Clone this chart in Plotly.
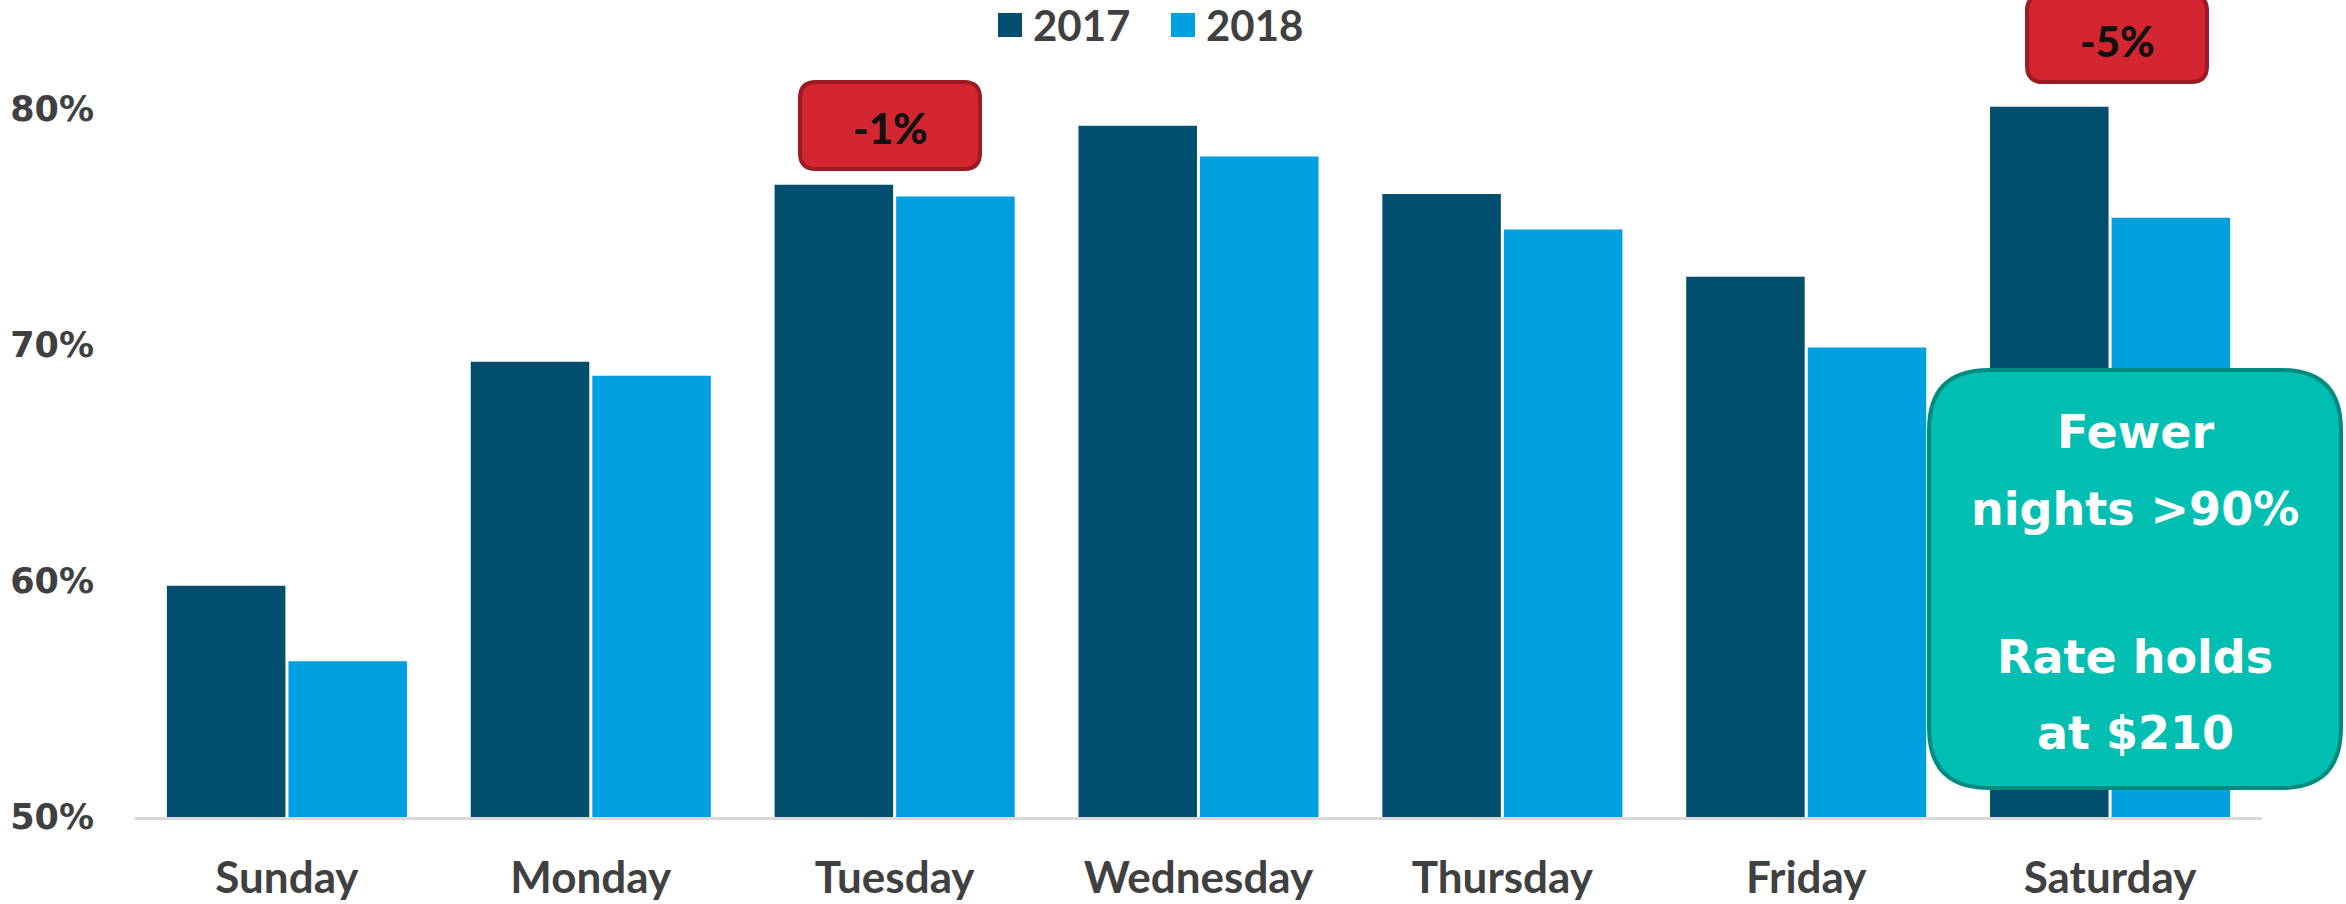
import plotly.graph_objects as go

# Occupancy by day of week
days = ["Sunday", "Monday", "Tuesday", "Wednesday", "Thursday", "Friday", "Saturday"]
occ_2017 = [59.8, 69.3, 76.8, 79.3, 76.4, 72.9, 80.1]
occ_2018 = [56.6, 68.7, 76.3, 78.0, 74.9, 69.9, 75.4]
series_names = ["2017", "2018"]
y_ticks = [50, 60, 70, 80]
y_tick_text = ["50%", "60%", "70%", "80%"]

change_labels = [("Tuesday", "-1%"), ("Saturday", "-5%")]
callout_lines = ["Fewer", "nights >90%", "Rate holds", "at $210"]

DARK = "#004F6E"
LIGHT = "#009FDF"
RED = "#D42630"
RED_EDGE = "#9A1B22"
TEAL = "#00BFB2"
TEAL_EDGE = "#008A80"
GREY_TXT = "#404040"

W, H = 2346, 904
L, R, T, B = 135, 84, 62, 87
PW, PH = W - L - R, H - T - B


def px_x(px):
    return (px - L) / PW


def px_y(py):
    return (H - B - py) / PH


def rounded_box(x0, y0, x1, y1, r):
    """Rounded rectangle path given in pixels, returned in paper units."""
    pts = [
        f"M{px_x(x0 + r)},{px_y(y0)}",
        f"L{px_x(x1 - r)},{px_y(y0)}",
        f"Q{px_x(x1)},{px_y(y0)} {px_x(x1)},{px_y(y0 + r)}",
        f"L{px_x(x1)},{px_y(y1 - r)}",
        f"Q{px_x(x1)},{px_y(y1)} {px_x(x1 - r)},{px_y(y1)}",
        f"L{px_x(x0 + r)},{px_y(y1)}",
        f"Q{px_x(x0)},{px_y(y1)} {px_x(x0)},{px_y(y1 - r)}",
        f"L{px_x(x0)},{px_y(y0 + r)}",
        f"Q{px_x(x0)},{px_y(y0)} {px_x(x0 + r)},{px_y(y0)}",
        "Z",
    ]
    return " ".join(pts)


fig = go.Figure()
fig.add_trace(go.Bar(x=days, y=occ_2017, name=series_names[0],
                     marker=dict(color=DARK, line=dict(width=0)), showlegend=False))
fig.add_trace(go.Bar(x=days, y=occ_2018, name=series_names[1],
                     marker=dict(color=LIGHT, line=dict(width=0)), showlegend=False))

shapes = []
annotations = []

# Legend drawn as swatches + labels
legend_items = [(series_names[0], DARK, 998), (series_names[1], LIGHT, 1171)]
for name, col, sx in legend_items:
    shapes.append(dict(type="rect", xref="paper", yref="paper",
                       x0=px_x(sx), x1=px_x(sx + 24), y0=px_y(37), y1=px_y(13),
                       fillcolor=col, line=dict(width=0), layer="above"))
    annotations.append(dict(xref="paper", yref="paper", x=px_x(sx + 33), y=px_y(25),
                            text=name, showarrow=False, xanchor="left", yanchor="middle",
                            font=dict(family="Lato", size=42, color=GREY_TXT, weight="bold")))

# Change badges above the day groups
badge_boxes = {"Tuesday": (800, 82, 980, 169), "Saturday": (2027, -5, 2207, 82)}
for day, label in change_labels:
    x0, y0, x1, y1 = badge_boxes[day]
    shapes.append(dict(type="path", xref="paper", yref="paper",
                       path=rounded_box(x0, y0, x1, y1, 16),
                       fillcolor=RED, line=dict(color=RED_EDGE, width=4), layer="above"))
    annotations.append(dict(xref="paper", yref="paper", x=px_x((x0 + x1) / 2),
                            y=px_y((y0 + y1) / 2 + 2), text=label, showarrow=False,
                            xanchor="center", yanchor="middle",
                            font=dict(family="Lato", size=42, color="#111111", weight=900)))

# Callout box over Saturday
shapes.append(dict(type="path", xref="paper", yref="paper",
                   path=rounded_box(1929, 370, 2341, 788, 60),
                   fillcolor=TEAL, line=dict(color=TEAL_EDGE, width=4), layer="above"))
line_y = [432, 509, 657, 733]
for txt, ly in zip(callout_lines, line_y):
    annotations.append(dict(xref="paper", yref="paper", x=px_x(2135), y=px_y(ly),
                            text=txt, showarrow=False, xanchor="center", yanchor="middle",
                            font=dict(family="DejaVu Sans", size=46, color="white",
                                      weight="bold")))

fig.update_layout(
    width=W, height=H,
    margin=dict(l=L, r=R, t=T, b=B, pad=0),
    paper_bgcolor="white", plot_bgcolor="white",
    barmode="group", bargap=0.2, bargroupgap=0.025,
    showlegend=False,
    shapes=shapes, annotations=annotations,
    xaxis=dict(
        showgrid=False, showline=True, linecolor="#D9D9D9", linewidth=3,
        ticks="", ticklabelstandoff=20, automargin=False,
        tickfont=dict(family="Lato", size=44, color=GREY_TXT, weight="bold"),
    ),
    yaxis=dict(
        range=[50, 82], tickmode="array", tickvals=y_ticks, ticktext=y_tick_text,
        showgrid=False, zeroline=False, showline=False, ticks="",
        ticklabelstandoff=40, automargin=False,
        tickfont=dict(family="DejaVu Sans", size=35, color=GREY_TXT, weight="bold"),
    ),
)

fig.write_html("out.html")
